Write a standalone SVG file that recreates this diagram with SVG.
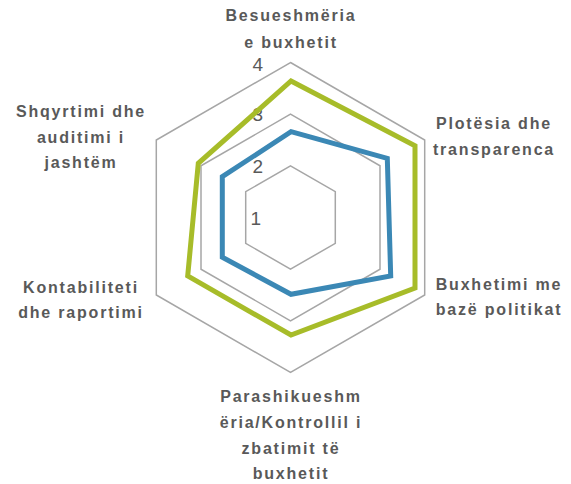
<svg xmlns="http://www.w3.org/2000/svg" width="571" height="484" viewBox="0 0 571 484">
<style>
.grid{fill:none;stroke:#a6a6a6;stroke-width:1.5;stroke-linejoin:miter}
.ser{fill:none;stroke-width:5;stroke-linejoin:miter}
.lbl{font-family:"Liberation Sans",Arial,sans-serif;font-weight:bold;font-size:16px;fill:#595959;letter-spacing:1.8px;text-anchor:middle}
.tick{font-family:"Liberation Sans",Arial,sans-serif;font-size:19px;fill:#595959;text-anchor:end}
</style>
<rect width="571" height="484" fill="#ffffff"/>
<g id="grid">
<polygon class="grid" points="290.5,62.5 424.7,140 424.7,295 290.5,372.5 156.3,295 156.3,140"/>
<polygon class="grid" points="290.5,114.2 380,165.8 380,269.2 290.5,320.8 201,269.2 201,165.8"/>
<polygon class="grid" points="290.5,165.8 335.3,191.7 335.3,243.3 290.5,269.2 245.7,243.3 245.7,191.7"/>
</g>
<g id="ticks">
<text class="tick" x="263" y="71">4</text>
<text class="tick" x="263" y="121">3</text>
<text class="tick" x="263" y="173">2</text>
<text class="tick" x="261" y="225">1</text>
</g>
<g id="series">
<polygon id="series-blue" class="ser" stroke="#3b88b5" points="291,131.7 387.3,158.3 390.7,276 291,294.3 222.3,257.3 222.3,176.7"/>
<polygon id="series-green" class="ser" stroke="#a7bc29" points="291,81 415,145.7 415,288 291,335 187.7,276 198.3,163.3"/>
</g>
<g id="label-top">
<text class="lbl" x="291" y="21">Besueshmëria</text>
<text class="lbl" x="291" y="48">e buxhetit</text>
</g>
<g id="label-upper-right">
<text class="lbl" x="494" y="129">Plotësia dhe</text>
<text class="lbl" x="494" y="155">transparenca</text>
</g>
<g id="label-lower-right">
<text class="lbl" x="499" y="290">Buxhetimi me</text>
<text class="lbl" x="499" y="315">bazë politikat</text>
</g>
<g id="label-bottom">
<text class="lbl" x="291" y="402">Parashikueshm</text>
<text class="lbl" x="291" y="428">ëria/Kontrollil i</text>
<text class="lbl" x="291" y="454">zbatimit të</text>
<text class="lbl" x="291" y="479">buxhetit</text>
</g>
<g id="label-lower-left">
<text class="lbl" x="81" y="293">Kontabiliteti</text>
<text class="lbl" x="81" y="318">dhe raportimi</text>
</g>
<g id="label-upper-left">
<text class="lbl" x="81" y="117">Shqyrtimi dhe</text>
<text class="lbl" x="81" y="143">auditimi i</text>
<text class="lbl" x="81" y="168">jashtëm</text>
</g>
</svg>
